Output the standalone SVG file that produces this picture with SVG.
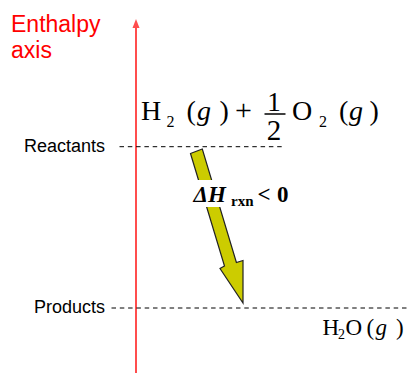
<svg xmlns="http://www.w3.org/2000/svg" width="408" height="375" viewBox="0 0 408 375">
  <style>
    .lbl { font-family: "Liberation Sans", Arial, sans-serif; font-size: 18px; fill: #000; }
    .axislbl { font-family: "Liberation Sans", Arial, sans-serif; font-size: 23px; fill: #ff0000; }
    .eq { font-family: "Liberation Serif", "Times New Roman", serif; fill: #000; }
    .level { stroke: #000; stroke-width: 1; stroke-dasharray: 4.5 3.8; fill: none; }
    .arrowtxt { font-family: "Liberation Serif", "Times New Roman", serif; font-weight: bold; fill: #000; }
  </style>
  <rect width="408" height="375" fill="#ffffff"/>

  <g id="enthalpy-axis">
    <line x1="136" y1="373" x2="136" y2="27" stroke="#ff4d4d" stroke-width="2"/>
    <polygon points="136,19 132.5,28 139.5,28" fill="#ff4d4d"/>
    <text class="axislbl" x="11" y="31.5">Enthalpy</text>
    <text class="axislbl" x="11" y="57.5">axis</text>
  </g>

  <g id="reactants">
    <text class="lbl" x="24" y="151.7">Reactants</text>
    <line class="level" x1="119.5" y1="146.7" x2="285" y2="146.7"/>
    <text class="eq" font-size="28"><tspan x="141" y="120">H</tspan><tspan x="166.5" y="127" font-size="16">2</tspan><tspan x="186.5" y="120">(</tspan><tspan x="197" y="120" font-style="italic">g</tspan><tspan x="219.5" y="120">)</tspan><tspan x="235" y="120" font-size="30">+</tspan><tspan x="292" y="120">O</tspan><tspan x="319" y="127" font-size="16">2</tspan><tspan x="339" y="120">(</tspan><tspan x="349" y="120" font-style="italic">g</tspan><tspan x="369.5" y="120">)</tspan></text>
    <text class="eq" font-size="27" x="274" y="110.5" text-anchor="middle">1</text>
    <line x1="264.5" y1="114" x2="285.5" y2="114" stroke="#000" stroke-width="1.5"/>
    <text class="eq" font-size="29" x="274" y="140" text-anchor="middle">2</text>
  </g>

  <g id="products">
    <text class="lbl" x="34" y="312.7">Products</text>
    <line class="level" x1="111.5" y1="308" x2="408" y2="308"/>
    <text class="eq" font-size="23"><tspan x="322.5" y="335">H</tspan><tspan x="338" y="339" font-size="14">2</tspan><tspan x="345.5" y="335">O</tspan><tspan x="366.5" y="335">(</tspan><tspan x="375.5" y="335" font-style="italic">g</tspan><tspan x="396" y="335">)</tspan></text>
  </g>

  <g id="connectors">
    <polygon points="190.5,153.5 202.3,149 236.4,262.5 243,260.5 243,303 220,268.5 224.5,266" fill="#cccc00" stroke="#222" stroke-width="1.2" stroke-linejoin="miter"/>
    <rect x="193" y="180" width="98" height="27" fill="#ffffff"/>
    <text class="arrowtxt" font-size="23" y="201.7"><tspan x="193.5" font-style="italic">Δ</tspan><tspan x="208" font-style="italic">H</tspan><tspan x="231" y="205.5" font-size="15">rxn</tspan><tspan x="257.5" y="201.7">&lt;</tspan><tspan x="277" y="201.7">0</tspan></text>
  </g>
</svg>
